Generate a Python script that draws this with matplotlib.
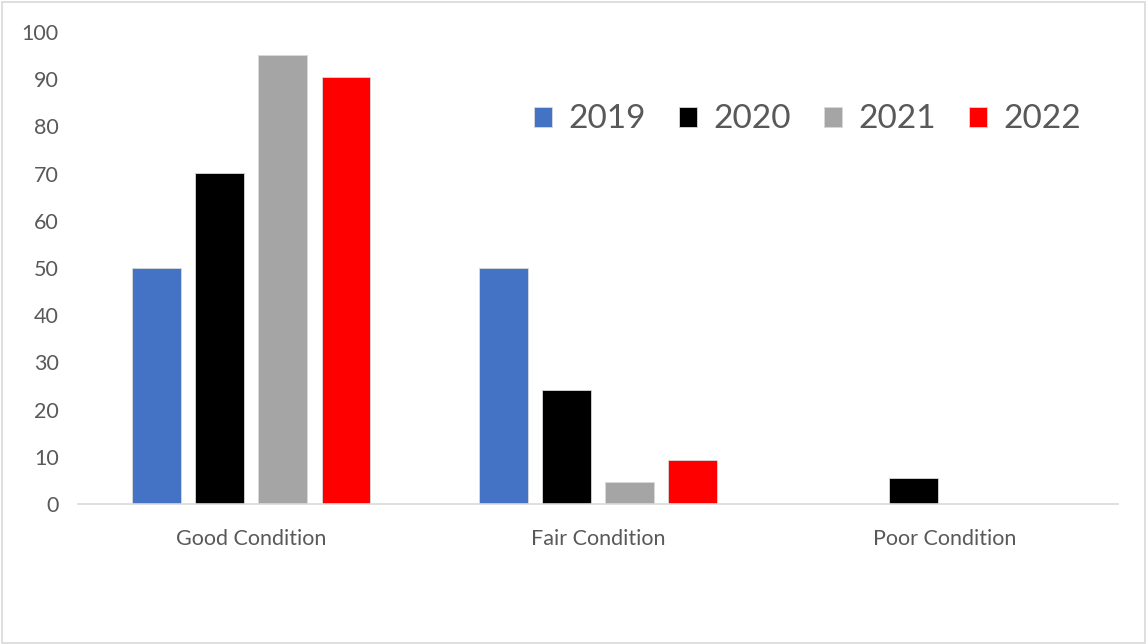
import matplotlib.pyplot as plt
import numpy as np
from matplotlib.patches import Rectangle

categories = ['Good Condition', 'Fair Condition', 'Poor Condition']
years = ['2019', '2020', '2021', '2022']
values = {
    '2019': [50, 50, 0],
    '2020': [70.2, 24.2, 5.5],
    '2021': [95.2, 4.7, 0],
    '2022': [90.5, 9.4, 0],
}
colors = {'2019': '#4472C4', '2020': '#000000', '2021': '#A5A5A5', '2022': '#FF0000'}

plt.rcParams['font.family'] = ['Lato', 'DejaVu Sans']
txt = '#595959'

fig = plt.figure(figsize=(11.47, 6.44), dpi=100)
ax = fig.add_axes([78 / 1147, 140 / 644, 1040 / 1147, 472 / 644])

x = np.arange(len(categories))
width = 0.141
step = 0.182
for i, yr in enumerate(years):
    ax.bar(x + (i - 1.5) * step, values[yr], width, color=colors[yr],
           edgecolor='#d9d9d9', linewidth=0.6, label=yr)

ax.set_xlim(-0.5, 2.5)
ax.set_ylim(0, 100)
ax.set_yticks(range(0, 101, 10))
ax.set_xticks(x)
ax.set_xticklabels(categories)
ax.tick_params(axis='both', length=0, colors=txt, labelsize=15.5)
ax.tick_params(axis='x', pad=18)
ax.tick_params(axis='y', pad=14)
for s in ['top', 'right', 'left']:
    ax.spines[s].set_visible(False)
ax.spines['bottom'].set_color('#d9d9d9')
ax.spines['bottom'].set_linewidth(1.2)

leg = ax.legend(loc='upper right', bbox_to_anchor=(0.993, 0.91), ncol=4, frameon=False,
                fontsize=24, handlelength=0.54, handleheight=0.54, handletextpad=0.48,
                columnspacing=1.0, labelcolor=txt)

fig.patches.append(Rectangle((0.002, 0.002), 0.996, 0.995, transform=fig.transFigure,
                             fill=False, edgecolor='#d9d9d9', linewidth=1.2))

fig.savefig('out.png', dpi=100)
